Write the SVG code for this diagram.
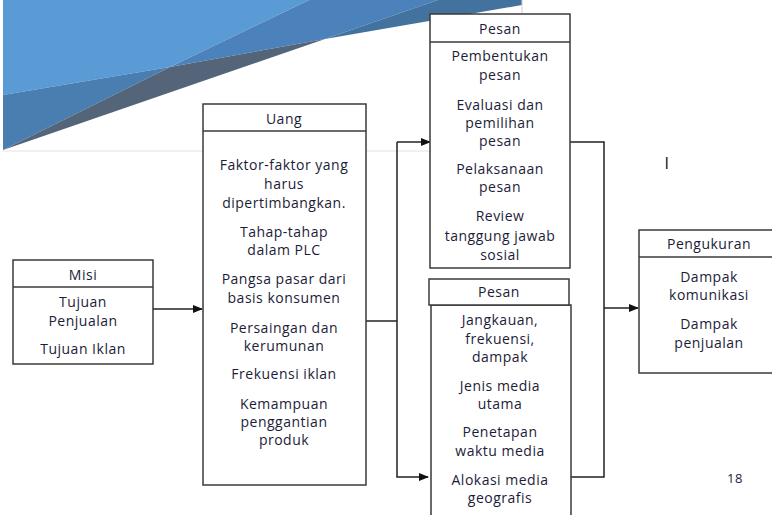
<svg xmlns="http://www.w3.org/2000/svg" width="772" height="515" viewBox="0 0 772 515">
<style>
.box{fill:#fff;stroke:#3a3a3a;stroke-width:1.5}
.t{font-family:"Open Sans","Liberation Sans",sans-serif;font-size:14px;letter-spacing:0.5px;fill:#1c1c38;text-anchor:middle}
.c{fill:none;stroke:#222;stroke-width:1.5}
</style>
<defs>
<marker id="ah" markerWidth="10" markerHeight="8" refX="9" refY="4" orient="auto" markerUnits="userSpaceOnUse">
<path d="M0,0 L10,4 L0,8 z" fill="#111"/>
</marker>
</defs>
<rect width="772" height="515" fill="#fff"/>
<g id="background">
<polygon points="3,0 309,0 170,67 3,95" fill="#5b9bd5"/>
<polygon points="309,0 438,0 325,39 170,67" fill="#4b82bb"/>
<polygon points="438,0 522,0 522,5 325,39" fill="#44729f"/>
<polygon points="3,95 170,67 3,150" fill="#4a7db0"/>
<polygon points="170,67 325,39 3,150" fill="#546579"/>
<line x1="522" y1="0" x2="522" y2="13" stroke="#cfcfcf" stroke-width="1"/>
<line x1="3" y1="151" x2="430" y2="151" stroke="#e2e2e2" stroke-width="1"/>
</g>
<g id="connectors">
<line class="c" x1="153" y1="309" x2="202" y2="309" marker-end="url(#ah)"/>
<line class="c" x1="366" y1="321" x2="397" y2="321"/>
<polyline class="c" points="397,142 397,477 428,477" marker-end="url(#ah)"/>
<line class="c" x1="397" y1="142" x2="430" y2="142" marker-end="url(#ah)"/>
<polyline class="c" points="570,142 604,142 604,477 571,477"/>
<line class="c" x1="604" y1="308" x2="638" y2="308" marker-end="url(#ah)"/>
</g>
<g id="misi">
<rect class="box" x="13" y="260" width="140" height="104"/>
<line class="box" x1="13" y1="287" x2="153" y2="287"/>
<text class="t" x="83" y="280">Misi</text>
<text class="t" x="83" y="307">Tujuan</text>
<text class="t" x="83" y="326">Penjualan</text>
<text class="t" x="83" y="354">Tujuan Iklan</text>
</g>
<g id="uang">
<rect class="box" x="203" y="104" width="163" height="381"/>
<line class="box" x1="203" y1="131" x2="366" y2="131"/>
<text class="t" x="284" y="124">Uang</text>
<text class="t" x="284" y="170">Faktor-faktor yang</text>
<text class="t" x="284" y="189">harus</text>
<text class="t" x="284" y="208">dipertimbangkan.</text>
<text class="t" x="284" y="237">Tahap-tahap</text>
<text class="t" x="284" y="255">dalam PLC</text>
<text class="t" x="284" y="284">Pangsa pasar dari</text>
<text class="t" x="284" y="303">basis konsumen</text>
<text class="t" x="284" y="333">Persaingan dan</text>
<text class="t" x="284" y="351">kerumunan</text>
<text class="t" x="284" y="379">Frekuensi iklan</text>
<text class="t" x="284" y="409">Kemampuan</text>
<text class="t" x="284" y="427">penggantian</text>
<text class="t" x="284" y="445">produk</text>
</g>
<g id="pesan1">
<rect class="box" x="430" y="14" width="140" height="254"/>
<line class="box" x1="430" y1="42" x2="570" y2="42"/>
<text class="t" x="500" y="34">Pesan</text>
<text class="t" x="500" y="61">Pembentukan</text>
<text class="t" x="500" y="80">pesan</text>
<text class="t" x="500" y="110">Evaluasi dan</text>
<text class="t" x="500" y="128">pemilihan</text>
<text class="t" x="500" y="146">pesan</text>
<text class="t" x="500" y="174">Pelaksanaan</text>
<text class="t" x="500" y="192">pesan</text>
<text class="t" x="500" y="221">Review</text>
<text class="t" x="500" y="241">tanggung jawab</text>
<text class="t" x="500" y="260">sosial</text>
</g>
<g id="pesan2">
<rect class="box" x="431" y="305" width="140" height="215"/>
<rect class="box" x="429" y="279" width="140" height="26"/>
<text class="t" x="499" y="297">Pesan</text>
<text class="t" x="500" y="325">Jangkauan,</text>
<text class="t" x="500" y="344">frekuensi,</text>
<text class="t" x="500" y="362">dampak</text>
<text class="t" x="500" y="391">Jenis media</text>
<text class="t" x="500" y="409">utama</text>
<text class="t" x="500" y="437">Penetapan</text>
<text class="t" x="500" y="456">waktu media</text>
<text class="t" x="500" y="485">Alokasi media</text>
<text class="t" x="500" y="503">geografis</text>
</g>
<g id="pengukuran">
<rect class="box" x="639" y="230" width="140" height="143"/>
<line class="box" x1="639" y1="257" x2="779" y2="257"/>
<text class="t" x="709" y="249">Pengukuran</text>
<text class="t" x="709" y="282">Dampak</text>
<text class="t" x="709" y="300">komunikasi</text>
<text class="t" x="709" y="329">Dampak</text>
<text class="t" x="709" y="348">penjualan</text>
</g>
<text class="t" x="667" y="169" style="font-size:16px;fill:#111">I</text>
<text class="t" x="735" y="483" style="font-size:13px">18</text>
</svg>
